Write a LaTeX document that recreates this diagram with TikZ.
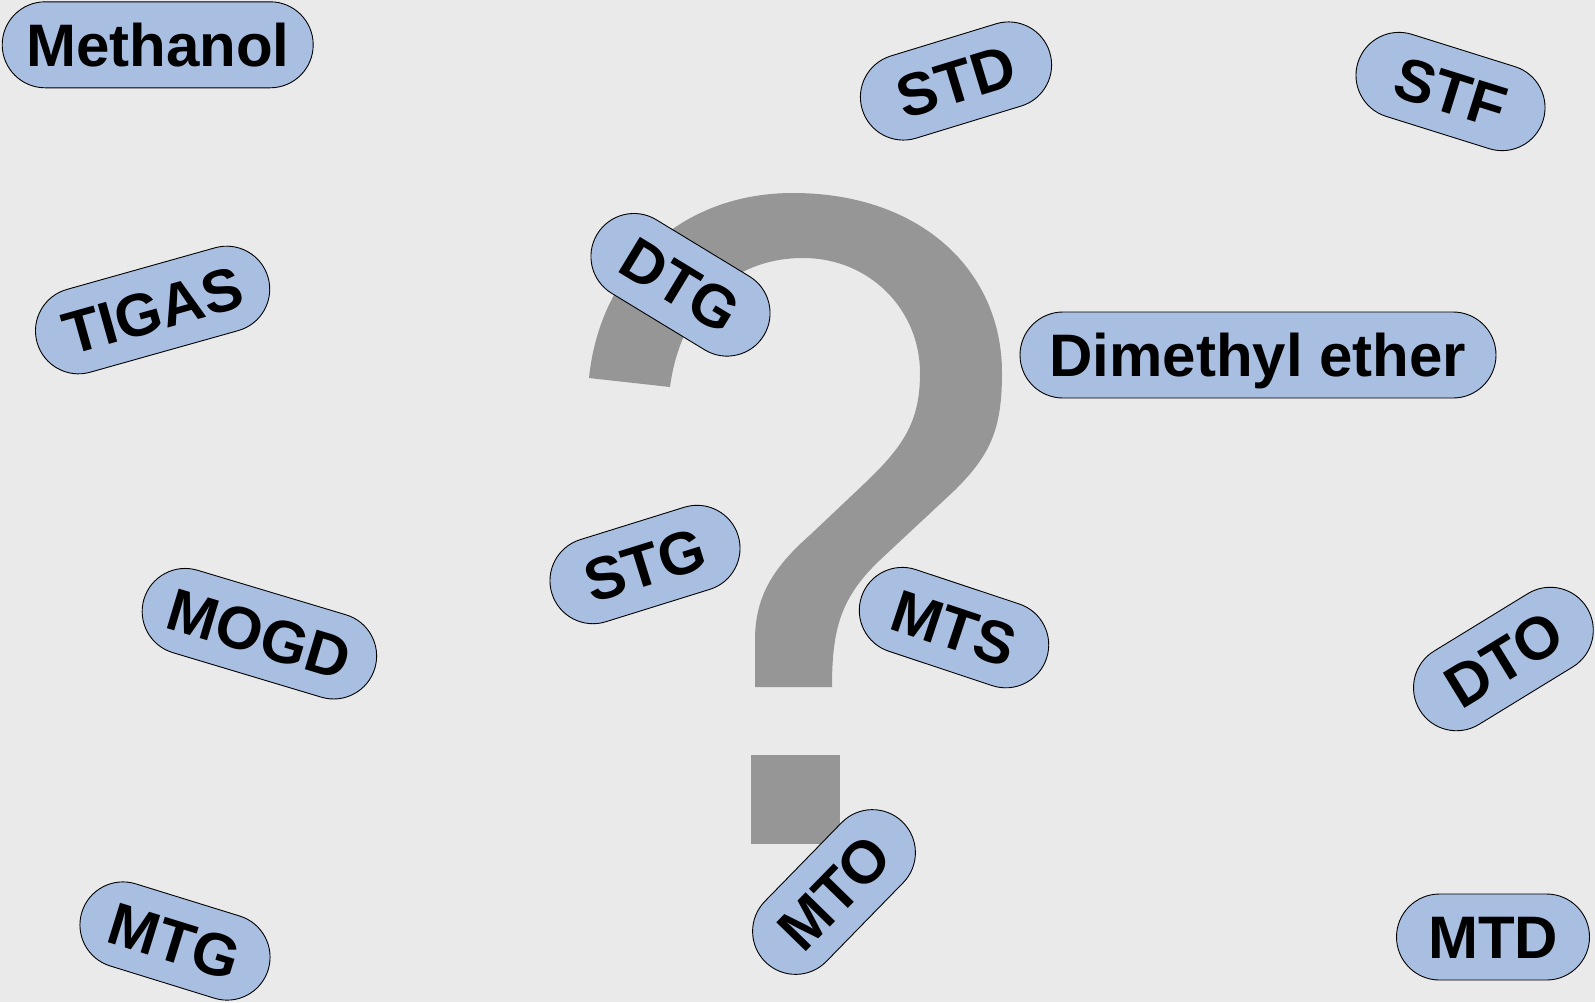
\documentclass[tikz,border=0pt]{standalone}
\usepackage{fontspec}
\setmainfont{Liberation Sans}
\definecolor{bggrey}{RGB}{234,234,234}
\definecolor{markgrey}{RGB}{150,150,150}
\definecolor{pillblue}{RGB}{168,191,225}
\begin{document}
\begin{tikzpicture}[x=1pt,y=-1pt,
  pill/.style={draw=black, line width=0.9pt, fill=pillblue,
    rounded corners=43pt, minimum height=86pt, inner sep=0pt,
    text height=43pt, text depth=0pt,
    font=\fontsize{60}{72}\selectfont\bfseries, text=black}]
  % canvas
  \fill[bggrey] (0,0) rectangle (1595,1002);
  \useasboundingbox (0,0) rectangle (1595,1002);

  % large question mark
  \fill[markgrey] (589,378) .. controls (600,270) and (680,193) .. (793,193)
    .. controls (920,193) and (1002,270) .. (1002,373)
    .. controls (1002,430) and (990,455) .. (955,490)
    -- (880,560) .. controls (840,598) and (832,630) .. (832,687)
    -- (755,687) -- (755,640)
    .. controls (755,600) and (770,570) .. (810,535)
    -- (865,483) .. controls (905,445) and (920,420) .. (920,373)
    .. controls (920,310) and (870,258) .. (803,258)
    .. controls (730,258) and (680,310) .. (670,387) -- cycle;
  \fill[markgrey] (751,755) rectangle (840,844);

  % process labels
  \node[pill, minimum width=311pt] (methanol) at (157.7,44.8) {Methanol};
  \node[pill, minimum width=196pt, rotate=17] (std) at (956,81) {STD};
  \node[pill, minimum width=194pt, rotate=-17.4] (stf) at (1450.5,91.5) {STF};
  \node[pill, minimum width=240pt, rotate=15.7] (tigas) at (152.6,310) {TIGAS};
  \node[pill, minimum width=195pt, rotate=-31.3] (dtg) at (680.5,284.8) {DTG};
  \node[pill, minimum width=476pt] (dme) at (1258,355) {Dimethyl ether};
  \node[pill, minimum width=195pt, rotate=17.3] (stg) at (645,564.5) {STG};
  \node[pill, minimum width=241pt, rotate=-16.7] (mogd) at (259.4,633.7) {MOGD};
  \node[pill, minimum width=195pt, rotate=-18.4] (mts) at (954,627.6) {MTS};
  \node[pill, minimum width=196pt, rotate=31.5] (dto) at (1503.4,659) {DTO};
  \node[pill, minimum width=195pt, rotate=-17.2] (mtg) at (175,941) {MTG};
  \node[pill, minimum width=196pt, rotate=45.7] (mto) at (834,892) {MTO};
  \node[pill, minimum width=193pt] (mtd) at (1493,937) {MTD};
\end{tikzpicture}
\end{document}
